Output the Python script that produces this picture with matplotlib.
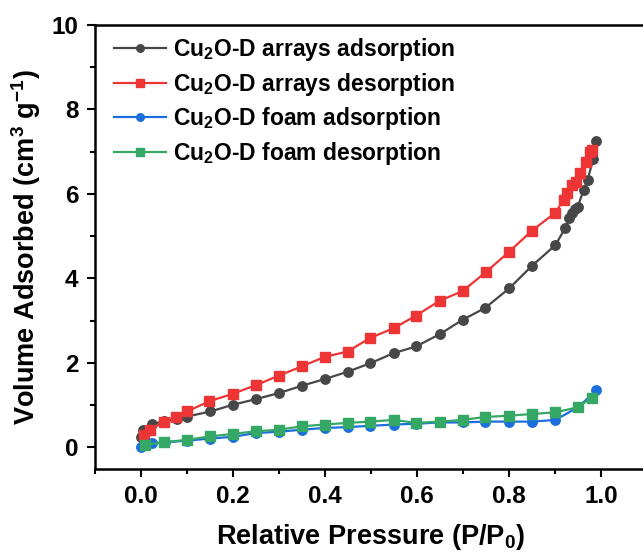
import matplotlib
matplotlib.use("Agg")
import matplotlib.pyplot as plt
from matplotlib.ticker import MultipleLocator

plt.rcParams['font.family'] = ['Liberation Sans', 'DejaVu Sans']
plt.rcParams['font.weight'] = 'bold'
plt.rcParams['mathtext.fontset'] = 'custom'
plt.rcParams['mathtext.rm'] = 'Liberation Sans:bold'
plt.rcParams['mathtext.bf'] = 'Liberation Sans:bold'
plt.rcParams['mathtext.default'] = 'bf'

# Cu2O-D arrays
arr_ads_p = [0.001, 0.005, 0.024, 0.05, 0.078, 0.1, 0.151, 0.2, 0.249, 0.301, 0.35, 0.40,
             0.449, 0.498, 0.549, 0.598, 0.651, 0.699, 0.748, 0.801, 0.85, 0.901, 0.922,
             0.93, 0.937, 0.944, 0.949, 0.962, 0.971, 0.983, 0.99]
arr_ads_v = [0.25, 0.40, 0.55, 0.62, 0.67, 0.73, 0.85, 1.01, 1.14, 1.29, 1.46, 1.62,
             1.79, 1.99, 2.23, 2.39, 2.69, 3.02, 3.30, 3.77, 4.30, 4.79, 5.19,
             5.42, 5.54, 5.64, 5.68, 6.09, 6.34, 6.82, 7.26]
arr_des_p = [0.981, 0.977, 0.968, 0.955, 0.946, 0.937, 0.927, 0.919, 0.901, 0.85, 0.799,
             0.751, 0.699, 0.649, 0.598, 0.549, 0.498, 0.449, 0.399, 0.35, 0.30, 0.249,
             0.2, 0.148, 0.1, 0.075, 0.049, 0.02, 0.006]
arr_des_v = [7.05, 7.00, 6.76, 6.49, 6.29, 6.21, 6.03, 5.86, 5.56, 5.13, 4.62,
             4.16, 3.70, 3.47, 3.12, 2.82, 2.59, 2.27, 2.14, 1.92, 1.70, 1.47,
             1.27, 1.09, 0.85, 0.73, 0.61, 0.42, 0.30]

# Cu2O-D foam
foam_ads_p = [0.0, 0.005, 0.024, 0.053, 0.1, 0.151, 0.2, 0.249, 0.301, 0.35, 0.40, 0.449,
              0.498, 0.549, 0.598, 0.649, 0.699, 0.748, 0.799, 0.85, 0.901, 0.95, 0.99]
foam_ads_v = [0.0, 0.06, 0.10, 0.12, 0.16, 0.21, 0.25, 0.34, 0.37, 0.42, 0.46, 0.48,
              0.51, 0.54, 0.56, 0.59, 0.59, 0.61, 0.61, 0.61, 0.65, 0.95, 1.35]
foam_des_p = [0.98, 0.95, 0.901, 0.85, 0.799, 0.748, 0.699, 0.649, 0.598, 0.549, 0.498,
              0.449, 0.399, 0.35, 0.301, 0.249, 0.2, 0.151, 0.1, 0.049, 0.009]
foam_des_v = [1.18, 0.95, 0.83, 0.79, 0.75, 0.72, 0.65, 0.61, 0.58, 0.65, 0.61,
              0.58, 0.54, 0.50, 0.42, 0.38, 0.32, 0.26, 0.18, 0.12, 0.06]

labels = ['Cu$_2$O-D arrays adsorption', 'Cu$_2$O-D arrays desorption',
          'Cu$_2$O-D foam adsorption', 'Cu$_2$O-D foam desorption']

fig = plt.figure(figsize=(6.43, 5.58), dpi=100)
ax = fig.add_axes([95 / 643, 1 - 468.5 / 558, 552 / 643, 443.5 / 558])

ax.plot(arr_ads_p, arr_ads_v, '-o', color='#474747', lw=1.6, ms=6.8, label=labels[0])
ax.plot(arr_des_p, arr_des_v, '-s', color='#ee3535', lw=1.6, ms=6.8, label=labels[1])
ax.plot(foam_ads_p, foam_ads_v, '-o', color='#1b6fdc', lw=1.6, ms=6.8, label=labels[2])
ax.plot(foam_des_p, foam_des_v, '-s', color='#35a865', lw=1.6, ms=6.8, label=labels[3])

ax.set_xlim(-0.1, 1.1)
ax.set_ylim(-0.5, 10)
ax.xaxis.set_minor_locator(MultipleLocator(0.1))
ax.yaxis.set_major_locator(MultipleLocator(2))
ax.yaxis.set_minor_locator(MultipleLocator(1))
ax.set_xticks([0.0, 0.2, 0.4, 0.6, 0.8, 1.0])
ax.set_xticklabels(['0.0', '0.2', '0.4', '0.6', '0.8', '1.0'])
ax.tick_params(which='major', direction='out', length=6, width=1.5, labelsize=17.5, pad=6)
ax.tick_params(which='minor', direction='out', length=3.5, width=1.5)
ax.tick_params(top=False, right=False, which='both')
for s in ax.spines.values():
    s.set_linewidth(1.8)

ax.set_xlabel('Relative Pressure (P/P$_0$)', fontsize=19.5, fontweight='bold', labelpad=10)
ax.set_ylabel('Volume Adsorbed (cm$^3$ g$^{-1}$)', fontsize=19.5, fontweight='bold', labelpad=6)

ax.legend(loc='upper left', bbox_to_anchor=(0.014, 1.0), frameon=False, fontsize=16.5,
          handlelength=2.3, handletextpad=0.3, labelspacing=0.33, borderaxespad=0.08,
          markerscale=0.8)

fig.savefig('out.png', dpi=100)
